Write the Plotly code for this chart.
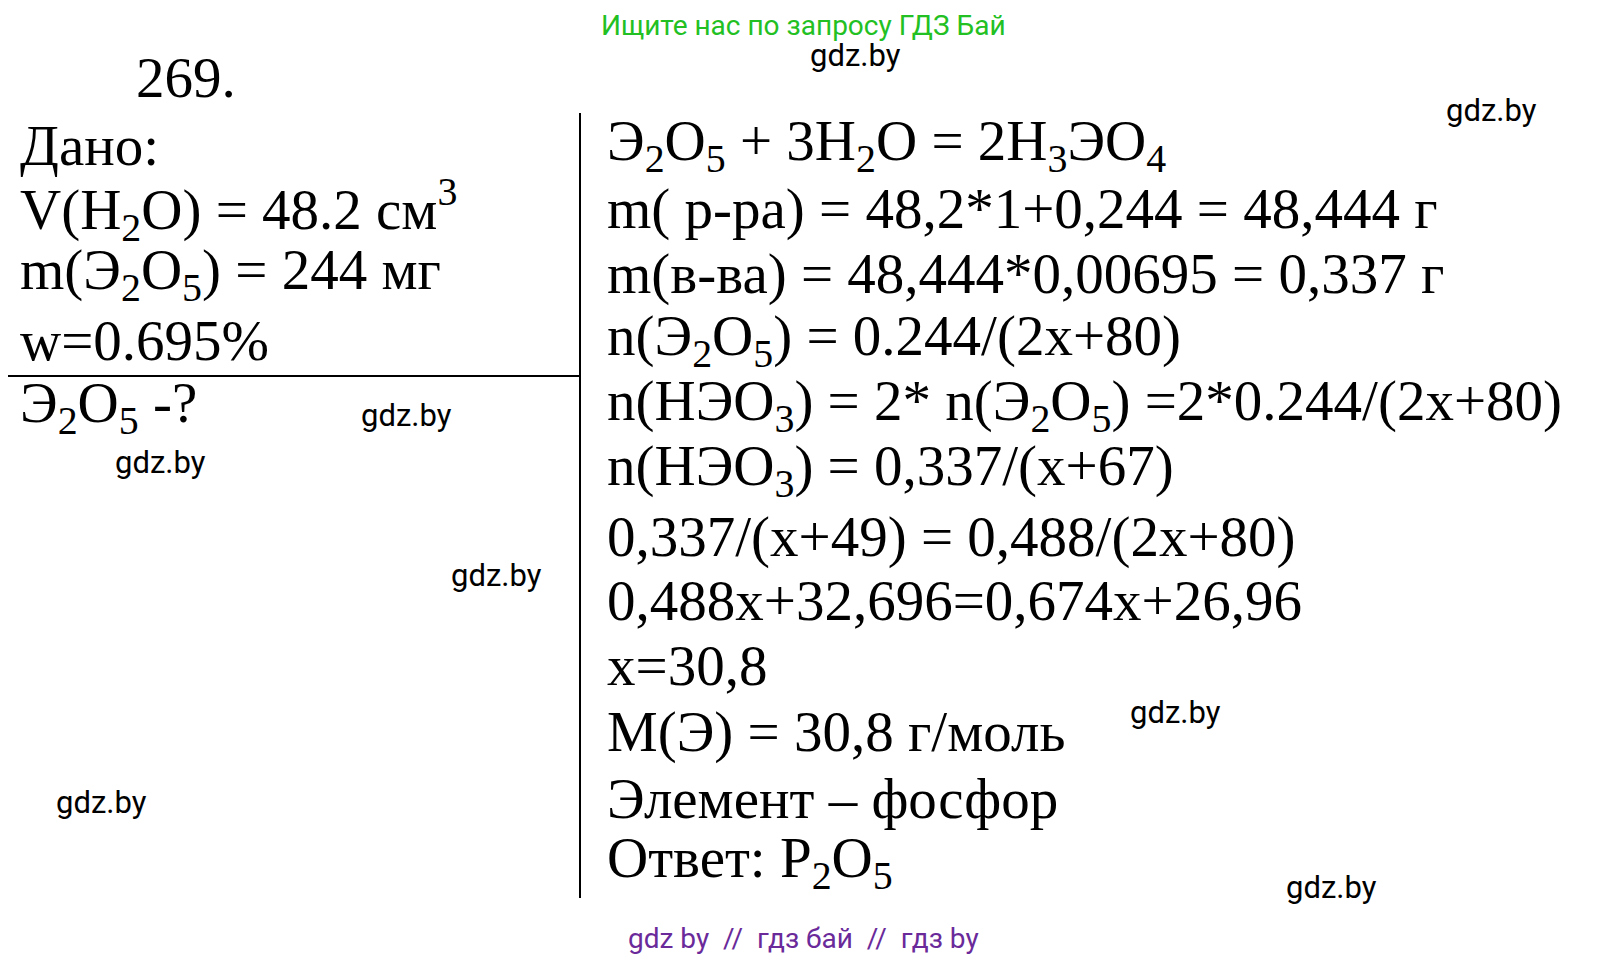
import plotly.graph_objects as go

left_lines = ["Дано:", "V(H<sub>2</sub>O) = 48.2 см<sup>3</sup>", "m(Э<sub>2</sub>O<sub>5</sub>) = 244 мг", "w=0.695%"]
left_y = [143, 207, 272, 338]
find_line = "Э<sub>2</sub>O<sub>5</sub> -?"
right_lines = [
    "Э<sub>2</sub>O<sub>5</sub> + 3H<sub>2</sub>O = 2H<sub>3</sub>ЭO<sub>4</sub>",
    "m( р-ра) = 48,2*1+0,244 = 48,444 г",
    "m(в-ва) = 48,444*0,00695 = 0,337 г",
    "n(Э<sub>2</sub>O<sub>5</sub>) = 0.244/(2x+80)",
    "n(HЭO<sub>3</sub>) = 2* n(Э<sub>2</sub>O<sub>5</sub>) =2*0.244/(2x+80)",
    "n(HЭO<sub>3</sub>) = 0,337/(x+67)",
    "0,337/(x+49) = 0,488/(2x+80)",
    "0,488x+32,696=0,674x+26,96",
    "x=30,8",
    "M(Э) = 30,8 г/моль",
    "Элемент – фосфор",
    "Ответ: P<sub>2</sub>O<sub>5</sub>",
]
right_y = [143, 207, 272, 338, 403, 468, 535, 598, 663, 730, 796, 860]
wm_x = [847, 1483, 398, 152, 488, 1167, 93, 1323]
wm_y = [53, 108, 413, 460, 573, 710, 800, 885]

fig = go.Figure()
serif = dict(family="Liberation Serif", size=57, color="black")
DY = -6
ann = []
ann.append(dict(x=126, y=75 + DY, text="269.", font=serif))
for t, y in zip(left_lines, left_y):
    ann.append(dict(x=10, y=y + DY, text=t, font=serif))
ann.append(dict(x=10, y=405 + DY, text=find_line, font=serif))
for t, y in zip(right_lines, right_y):
    ann.append(dict(x=597, y=y + DY, text=t, font=serif))
for x, y in zip(wm_x, wm_y):
    ann.append(dict(x=x, y=y + DY, text="gdz.by", xanchor="center",
                    font=dict(family="Roboto", size=31, color="black")))
ann.append(dict(x=795, y=17, text="Ищите нас по запросу ГДЗ Бай", xanchor="center",
                font=dict(family="Roboto", size=28, color="#22c022")))
ann.append(dict(x=795, y=930, text="gdz by  //  гдз бай  //  гдз by", xanchor="center",
                font=dict(family="Roboto", size=28, color="#6a2a9a")))
for a in ann:
    a.setdefault("xanchor", "left")
    a.update(yanchor="middle", showarrow=False, xref="x", yref="y")

fig.update_layout(
    width=1607, height=975, margin=dict(l=0, r=0, t=0, b=0),
    paper_bgcolor="white", plot_bgcolor="white", annotations=ann,
    xaxis=dict(range=[0, 1607], visible=False, fixedrange=True),
    yaxis=dict(range=[975, 0], visible=False, fixedrange=True),
    shapes=[
        dict(type="line", x0=572, x1=572, y0=105, y1=890, line=dict(color="black", width=2)),
        dict(type="line", x0=0, x1=572, y0=368, y1=368, line=dict(color="black", width=2)),
    ],
)
fig.write_html("out.html")
